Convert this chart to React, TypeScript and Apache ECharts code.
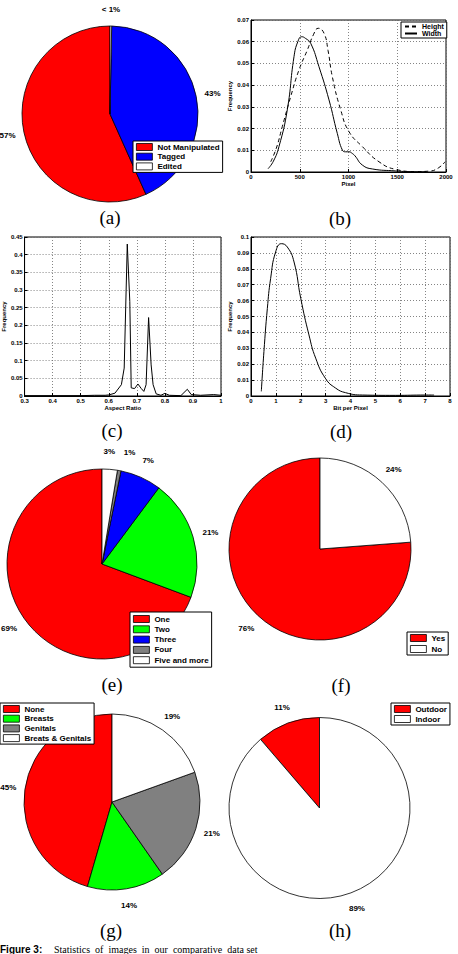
import React, { useEffect, useRef } from 'react';
import * as echarts from 'echarts';

// ---------- Pie data ----------
const aNames = ['Not Manipulated', 'Tagged', 'Edited'];
const aValues = [56.7, 43.0, 0.3];
const aLabels = ['57%', '43%', '< 1%'];

const eNames = ['One', 'Two', 'Three', 'Four', 'Five and more'];
const eValues = [69.3, 20.5, 7.0, 0.6, 2.6];
const eLabels = ['69%', '21%', '7%', '1%', '3%'];

const fNames = ['Yes', 'No'];
const fValues = [76.2, 23.8];
const fLabels = ['76%', '24%'];

const gNames = ['None', 'Breasts', 'Genitals', 'Breats & Genitals'];
const gValues = [45.5, 14.2, 20.8, 19.5];
const gLabels = ['45%', '14%', '21%', '19%'];

const hNames = ['Outdoor', 'Indoor'];
const hValues = [11.3, 88.7];
const hLabels = ['11%', '89%'];

// ---------- Line data ----------
const bHeight = [
  [202, 0.0047], [260, 0.011], [321, 0.0209], [407, 0.0347], [492, 0.047], [578, 0.0562],
  [640, 0.0632], [690, 0.0662], [749, 0.0639], [790, 0.056], [834, 0.0439], [920, 0.0286],
  [1005, 0.0186], [1142, 0.0117], [1313, 0.0047], [1484, 0.0012], [1689, 0.0002],
  [1826, 0.0004], [1920, 0.0018], [1990, 0.0047],
];
const bWidth = [
  [175, 0.0015], [230, 0.005], [287, 0.0117], [372, 0.0286], [441, 0.0531], [480, 0.06],
  [520, 0.0623], [560, 0.0615], [612, 0.0593], [697, 0.0485], [800, 0.0332], [885, 0.0178],
  [937, 0.0101], [970, 0.0093], [1005, 0.0093], [1040, 0.0085], [1067, 0.0074], [1142, 0.0032],
  [1244, 0.0014], [1484, 0.0005], [1600, 0.0002], [1800, 0.0001],
];
const cAspect = [
  [0.3, 0.001], [0.4, 0.001], [0.5, 0.001], [0.55, 0.002], [0.587, 0.002], [0.6, 0.003],
  [0.622, 0.008], [0.645, 0.032], [0.655, 0.079], [0.666, 0.43], [0.675, 0.267], [0.68, 0.023],
  [0.692, 0.021], [0.704, 0.034], [0.716, 0.021], [0.725, 0.013], [0.733, 0.032], [0.742, 0.222],
  [0.751, 0.088], [0.758, 0.032], [0.769, 0.006], [0.786, 0.002], [0.8, 0.0075], [0.816, 0.002],
  [0.857, 0.001], [0.88, 0.019], [0.894, 0.004], [0.927, 0.002], [0.974, 0.004], [1.0, 0.002],
];
const dBpp = [
  [0.415, 0.0029], [0.52, 0.028], [0.657, 0.055], [0.79, 0.074], [0.99, 0.0906], [1.22, 0.0958],
  [1.46, 0.0937], [1.73, 0.0843], [2.0, 0.0614], [2.33, 0.0384], [2.6, 0.0238], [3.0, 0.0109],
  [3.4, 0.005], [3.8, 0.0021], [4.48, 0.0006], [5.8, 0.0004], [7.0, 0.0006], [7.36, 0.0006],
];

const RED = '#ff0000';
const BLUE = '#0000ff';
const GREEN = '#00ff00';
const GRAY = '#808080';
const WHITE = '#ffffff';
const SANS = '"Liberation Sans", Arial, sans-serif';
const SERIF = '"Liberation Serif", "Times New Roman", serif';

function pieSeries(
  names: string[], values: number[], colors: string[], labels: string[],
  cx: number, cy: number, r: number, shifts?: number[]
) {
  const main = {
    type: 'pie',
    center: [cx, cy],
    radius: [0, r],
    startAngle: 90,
    clockwise: false,
    silent: true,
    emphasis: { disabled: true },
    label: { show: false },
    labelLine: { show: false },
    itemStyle: { borderColor: '#000', borderWidth: 0.8 },
    data: names.map((n, i) => ({ name: n, value: values[i], itemStyle: { color: colors[i] } })),
  };
  const labelR = 2 * (1.19 * r - 3);
  const lab = {
    type: 'pie',
    center: [cx, cy],
    radius: [0, labelR],
    startAngle: 90,
    clockwise: false,
    silent: true,
    emphasis: { disabled: true },
    avoidLabelOverlap: false,
    itemStyle: { color: 'rgba(0,0,0,0)', borderWidth: 0 },
    labelLine: { show: false },
    labelLayout: (p: any) => ({ hideOverlap: false, dx: shifts ? shifts[p.dataIndex] || 0 : 0 }),
    label: {
      show: true,
      position: 'inside',
      formatter: (p: any) => labels[p.dataIndex],
      color: '#000',
      fontSize: 8,
      fontWeight: 'bold',
      fontFamily: SANS,
    },
    data: names.map((n, i) => ({ name: n, value: values[i] })),
  };
  return [main, lab];
}

function pieLegend(names: string[], left: number, top: number, gap: number, pad: number[]) {
  return {
    data: names,
    orient: 'vertical',
    left,
    top,
    icon: 'rect',
    itemWidth: 16,
    itemHeight: 7,
    itemGap: gap,
    padding: pad,
    selectedMode: false,
    backgroundColor: '#fff',
    borderColor: '#000',
    borderWidth: 1,
    itemStyle: { borderColor: '#000', borderWidth: 0.8 },
    textStyle: { fontSize: 8, fontWeight: 'bold', fontFamily: SANS, color: '#000', lineHeight: 8 },
  };
}

const tickFmt = (v: number) => String(Number(Number(v).toPrecision(6)));

function valAxis(gridIndex: number, min: number, max: number, interval: number, name: string, nameGap: number) {
  return {
    type: 'value',
    gridIndex,
    min,
    max,
    interval,
    name,
    nameLocation: 'middle',
    nameGap,
    nameTextStyle: { fontSize: 6, fontWeight: 'bold', fontFamily: SANS, color: '#000' },
    axisLine: { show: true, onZero: false, lineStyle: { color: '#000', width: 1 } },
    axisTick: { show: true, inside: true, length: 3, lineStyle: { color: '#000' } },
    axisLabel: { fontSize: 6, fontWeight: 'bold', fontFamily: SANS, color: '#000', margin: 2, formatter: tickFmt },
    splitLine: { show: true, lineStyle: { type: [1, 2], color: '#666', width: 0.8 } },
  };
}

function lineSeries(data: number[][], xi: number, name: string | undefined, dashed: boolean, smooth: boolean) {
  return {
    type: 'line',
    name,
    xAxisIndex: xi,
    yAxisIndex: xi,
    data,
    symbol: 'none',
    showSymbol: false,
    smooth,
    silent: true,
    itemStyle: { color: '#000' },
    lineStyle: { color: '#000', width: 1, type: dashed ? [4, 3] : 'solid' },
  };
}

function caption(text: string, x: number, y: number) {
  return {
    type: 'text',
    x,
    y,
    style: { text, font: `19px ${SERIF}`, fill: '#000', textAlign: 'center', textVerticalAlign: 'middle' },
  };
}

export default function App() {
  const ref = useRef<HTMLDivElement>(null);
  useEffect(() => {
    if (!ref.current) return;
    const chart = echarts.init(ref.current, null, { renderer: 'svg' });
    const gridBox = { show: true, borderColor: '#000', borderWidth: 1, backgroundColor: 'transparent' };
    const option: any = {
      animation: false,
      backgroundColor: '#fff',
      textStyle: { fontFamily: SANS },
      grid: [
        { ...gridBox, left: 251, top: 20, width: 195, height: 152 },
        { ...gridBox, left: 22, top: 237, width: 199, height: 159 },
        { ...gridBox, left: 251, top: 237, width: 199, height: 159 },
      ],
      xAxis: [
        valAxis(0, 0, 2000, 500, 'Pixel', 7),
        valAxis(1, 0.3, 1, 0.1, 'Aspect Ratio', 8),
        valAxis(2, 0, 8, 1, 'Bit per Pixel', 8),
      ],
      yAxis: [
        valAxis(0, 0, 0.07, 0.01, 'Frequency', 16),
        valAxis(1, 0, 0.45, 0.05, 'Frequency', 16),
        valAxis(2, 0, 0.1, 0.01, 'Frequency', 16),
      ],
      legend: [
        {
          data: ['Height', 'Width'],
          orient: 'vertical',
          left: 401,
          top: 22,
          itemWidth: 12,
          itemHeight: 7,
          itemGap: 0,
          padding: [1, 3, 1, 3],
          selectedMode: false,
          backgroundColor: '#fff',
          borderColor: '#000',
          borderWidth: 1,
          itemStyle: { color: 'rgba(0,0,0,0)', borderWidth: 0, opacity: 0 },
          textStyle: { fontSize: 7, fontWeight: 'bold', fontFamily: SANS, color: '#000', lineHeight: 7 },
        },
        pieLegend(aNames, 133, 141, 1.7, [2, 3, 2, 3]),
        pieLegend(eNames, 130, 612, 2.3, [3, 3, 3, 3]),
        pieLegend(fNames, 407, 632, 3, [2, 3, 2, 3]),
        pieLegend(gNames, 0, 703, 1.7, [2, 3, 2, 3]),
        pieLegend(hNames, 391, 703, 2, [2, 3, 2, 3]),
      ],
      series: [
        ...pieSeries(aNames, aValues, [RED, BLUE, WHITE], aLabels, 110, 114, 88),
        ...pieSeries(eNames, eValues, [RED, GREEN, BLUE, GRAY, WHITE], eLabels, 102, 564, 95, [0, 0, 0, 7, -2]),
        ...pieSeries(fNames, fValues, [RED, WHITE], fLabels, 320, 549, 91),
        ...pieSeries(gNames, gValues, [RED, GREEN, GRAY, WHITE], gLabels, 112, 802, 88),
        ...pieSeries(hNames, hValues, [RED, WHITE], hLabels, 319.5, 808, 90.5),
        lineSeries(bHeight, 0, 'Height', true, true),
        lineSeries(bWidth, 0, 'Width', false, true),
        lineSeries(cAspect, 1, undefined, false, false),
        lineSeries(dBpp, 2, undefined, false, true),
      ],
      graphic: [
        caption('(a)', 110, 217),
        caption('(b)', 340, 218),
        caption('(c)', 112, 430),
        caption('(d)', 341, 431),
        caption('(e)', 112, 684),
        caption('(f)', 341, 685),
        caption('(g)', 111, 930),
        caption('(h)', 340, 930),
        {
          type: 'text',
          x: 0,
          y: 954,
          style: { text: 'Figure 3:', font: `bold 10px ${SANS}`, fill: '#000', textVerticalAlign: 'bottom' },
        },
        {
          type: 'text',
          x: 54,
          y: 954,
          style: {
            text: 'Statistics  of  images  in  our  comparative  data set',
            font: `10px ${SERIF}`,
            fill: '#000',
            textVerticalAlign: 'bottom',
          },
        },
      ],
    };
    chart.setOption(option);
    return () => chart.dispose();
  }, []);
  return (
    <div
      ref={ref}
      style={{ position: 'absolute', left: 0, top: 0, width: 458, height: 954, background: '#fff' }}
    />
  );
}
